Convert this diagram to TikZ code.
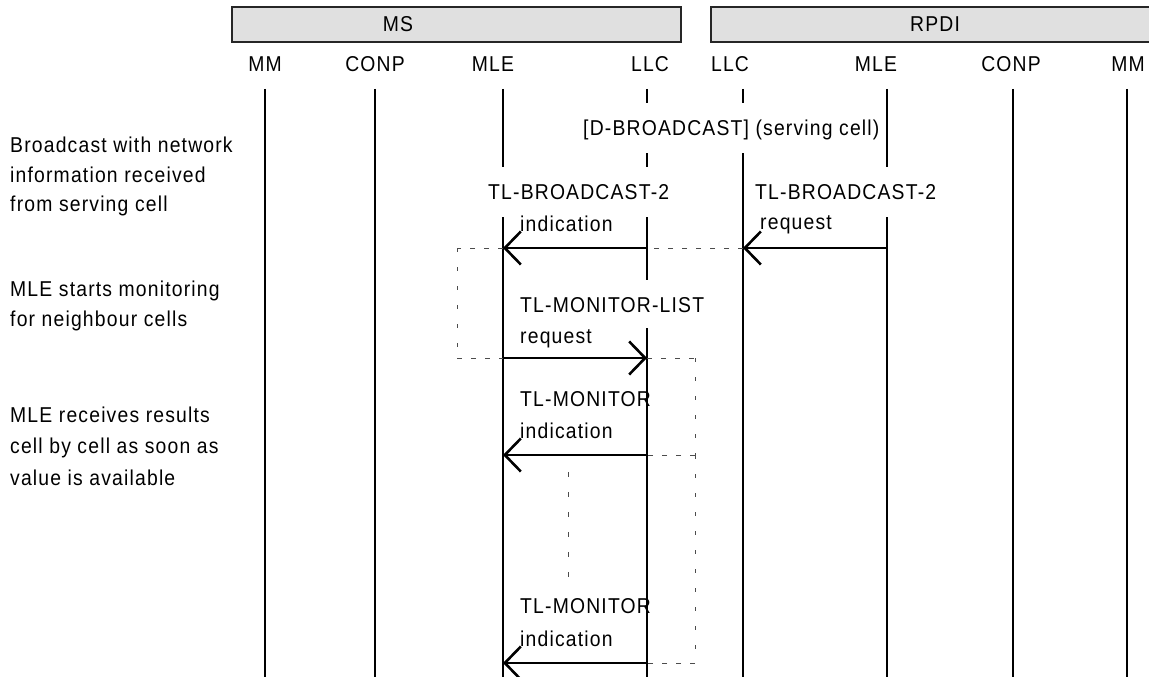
\documentclass[tikz,border=0pt]{standalone}
\usepackage{fontspec}
\setmainfont{Liberation Sans}[LetterSpace=5.5,FakeStretch=0.9]
\usetikzlibrary{arrows.meta}
\begin{document}
\begin{tikzpicture}[x=1pt,y=-1pt,
  life/.style={line width=2.6pt},
  msg/.style={line width=2.6pt,-{Straight Barb[length=16pt,width=33pt,line width=2.6pt]}},
  hframe/.style={dash pattern=on 5pt off 9pt, line width=0.9pt, draw=black!70},
  vframe/.style={dash pattern=on 4pt off 15pt, line width=0.9pt, draw=black!70},
  dots/.style={dash pattern=on 5pt off 15pt, line width=1pt, draw=black!70},
  hdr/.style={draw=black!85, line width=2pt, fill=black!12},
  txt/.style={anchor=base west, inner sep=0pt, font=\fontsize{21.5}{24}\selectfont},
  col/.style={anchor=base, inner sep=0pt, font=\fontsize{21.5}{24}\selectfont}]
\useasboundingbox (0,0) rectangle (1149,677);

% header boxes
\draw[hdr] (232,7) rectangle (681,42);
\draw[hdr] (711,7) rectangle (1155,42);
\node[col] (ms) at (398,32) {MS};
\node[col] (rpdi) at (935,32) {RPDI};

% column labels
\node[col] (lmm1) at (265,72) {MM};
\node[col] (lconp1) at (375,72) {CONP};
\node[col] (lmle1) at (493,72) {MLE};
\node[col] (lllc1) at (650,72) {LLC};
\node[col] (lllc2) at (730,72) {LLC};
\node[col] (lmle2) at (876,72) {MLE};
\node[col] (lconp2) at (1011,72) {CONP};
\node[col] (lmm2) at (1128,72) {MM};

% lifelines
\foreach \n/\x in {mm1/265, conp1/375, conp2/1013, mm2/1127} {
  \coordinate (\n-t) at (\x,89);
  \coordinate (\n-b) at (\x,677);
  \draw[life] (\n-t) -- (\n-b);
}
% MLE (MS)
\coordinate (mle1-t) at (503,89);
\coordinate (mle1-g1) at (503,167);
\coordinate (mle1-g2) at (503,217);
\coordinate (mle1-b) at (503,677);
\draw[life] (mle1-t) -- (mle1-g1);
\draw[life] (mle1-g2) -- (mle1-b);
% LLC (MS)
\coordinate (llc1-t) at (647,89);
\coordinate (llc1-g1) at (647,103);
\coordinate (llc1-g2) at (647,153);
\coordinate (llc1-g3) at (647,167);
\coordinate (llc1-g4) at (647,217);
\coordinate (llc1-g5) at (647,280);
\coordinate (llc1-g6) at (647,328);
\coordinate (llc1-b) at (647,677);
\draw[life] (llc1-t) -- (llc1-g1);
\draw[life] (llc1-g2) -- (llc1-g3);
\draw[life] (llc1-g4) -- (llc1-g5);
\draw[life] (llc1-g6) -- (llc1-b);
% LLC (RPDI)
\coordinate (llc2-t) at (743,89);
\coordinate (llc2-g1) at (743,103);
\coordinate (llc2-g2) at (743,153);
\coordinate (llc2-b) at (743,677);
\draw[life] (llc2-t) -- (llc2-g1);
\draw[life] (llc2-g2) -- (llc2-b);
% MLE (RPDI)
\coordinate (mle2-t) at (887,89);
\coordinate (mle2-g1) at (887,167);
\coordinate (mle2-g2) at (887,217);
\coordinate (mle2-b) at (887,677);
\draw[life] (mle2-t) -- (mle2-g1);
\draw[life] (mle2-g2) -- (mle2-b);

% message points
\coordinate (m1a) at (647,248);
\coordinate (m1b) at (503,248);
\coordinate (m2a) at (887,248);
\coordinate (m2b) at (743,248);
\coordinate (m3a) at (503,358);
\coordinate (m3b) at (647,358);
\coordinate (m4a) at (647,455);
\coordinate (m4b) at (503,455);
\coordinate (m5a) at (647,663);
\coordinate (m5b) at (503,663);
\coordinate (fl1) at (457,248);
\coordinate (fl2) at (457,358);
\coordinate (fr1) at (695,358);
\coordinate (fr2) at (695,455);
\coordinate (fr3) at (695,663);
\coordinate (d1) at (568,472);
\coordinate (d2) at (568,578);

% dashed frames
\draw[hframe] (m2b) -- (m1a);
\draw[hframe] (m1b) -- (fl1);
\draw[vframe] (fl1) -- (fl2);
\draw[hframe] (fl2) -- (m3a);
\draw[hframe] (m3b) -- (fr1);
\draw[vframe] (fr1) -- (fr2);
\draw[hframe] (fr2) -- (m4a);
\draw[vframe] (fr2) -- (fr3);
\draw[hframe] (fr3) -- (m5a);
\draw[dots] (d1) -- (d2);

% messages
\draw[msg] (m1a) -- (m1b);
\draw[msg] (m2a) -- (m2b);
\draw[msg] (m3a) -- (m3b);
\draw[msg] (m4a) -- (m4b);
\draw[msg] (m5a) -- (m5b);

% labels
\node[txt] (dbc) at (583,135) {[D-BROADCAST] (serving cell)};
\node[txt] (tb1) at (488,199) {TL-BROADCAST-2};
\node[txt] (tb1b) at (520,231) {indication};
\node[txt] (tb2) at (755,199) {TL-BROADCAST-2};
\node[txt] (tb2b) at (760,229) {request};
\node[txt] (tml) at (520,312) {TL-MONITOR-LIST};
\node[txt] (tmlb) at (520,343) {request};
\node[txt] (tm1) at (520,406) {TL-MONITOR};
\node[txt] (tm1b) at (520,438) {indication};
\node[txt] (tm2) at (520,613) {TL-MONITOR};
\node[txt] (tm2b) at (520,646) {indication};

% side notes
\node[txt] (n1a) at (10,152) {Broadcast with network};
\node[txt] (n1b) at (10,182) {information received};
\node[txt] (n1c) at (10,211) {from serving cell};
\node[txt] (n2a) at (10,296) {MLE starts monitoring};
\node[txt] (n2b) at (10,326) {for neighbour cells};
\node[txt] (n3a) at (10,422) {MLE receives results};
\node[txt] (n3b) at (10,453) {cell by cell as soon as};
\node[txt] (n3c) at (10,485) {value is available};
\end{tikzpicture}
\end{document}
